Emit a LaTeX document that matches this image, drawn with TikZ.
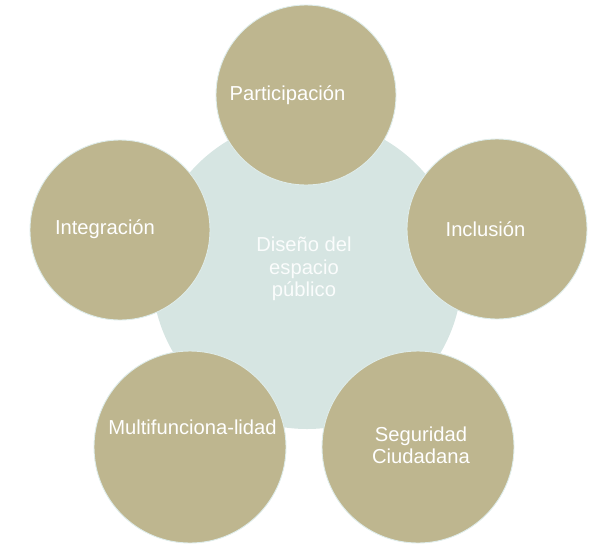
\documentclass[tikz,border=0pt]{standalone}
\usepackage{fontspec}
\setmainfont{Liberation Sans}
\definecolor{khaki}{RGB}{190,182,143}
\definecolor{paleblue}{RGB}{214,229,226}
\definecolor{rimcol}{RGB}{222,236,234}
\begin{document}
\begin{tikzpicture}[x=1pt,y=-1pt,
  hub/.style={circle,fill=paleblue,draw=none,inner sep=0pt,outer sep=0pt},
  petal/.style={circle,fill=khaki,draw=rimcol,line width=0.9pt,inner sep=0pt,outer sep=0pt},
  lbl/.style={text=white,font=\fontsize{20.2}{22.3}\selectfont,align=center,inner sep=0pt},
  hublbl/.style={text=white,opacity=0.9,font=\fontsize{20.2}{22.5}\selectfont,align=center,inner sep=0pt}]
\useasboundingbox (0,0) rectangle (596,544);
\node[hub,minimum size=310pt] (hubc) at (307,274) {};
\node[petal,minimum size=180pt] (cp) at (306,95) {};
\node[petal,minimum size=180pt] (ci) at (120,230) {};
\node[petal,minimum size=180pt] (cn) at (497,229) {};
\node[petal,minimum size=192pt] (cm) at (190,447) {};
\node[petal,minimum size=192pt] (cs) at (418,447) {};
\node[hublbl] (th) at (304,269) {Diseño del\\espacio\\público};
\node[lbl] (tp) at (287.5,95) {Participación};
\node[lbl] (ti) at (105,229) {Integración};
\node[lbl] (tn) at (485.5,229) {Inclusión};
\node[lbl] (tm) at (192.5,427) {Multifunciona-lidad};
\node[lbl] (ts) at (421,445) {Seguridad\\Ciudadana};
\end{tikzpicture}
\end{document}
